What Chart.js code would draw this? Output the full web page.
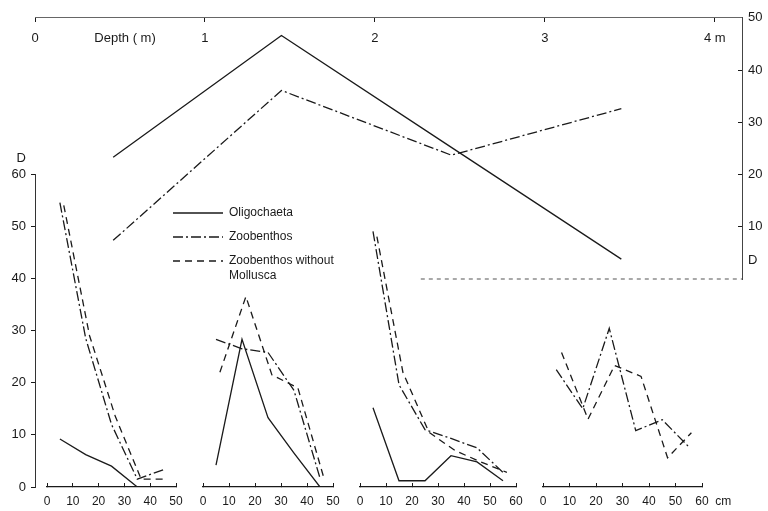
<!DOCTYPE html>
<html>
<head>
<meta charset="utf-8">
<script src="https://cdn.jsdelivr.net/npm/chart.js@4.4.0/dist/chart.umd.min.js"></script>
<style>
  html, body { margin: 0; padding: 0; background: #fff; overflow: hidden; }
  #fig { position: relative; width: 768px; height: 511px; }
  #fig canvas { position: absolute; left: 0; }
</style>
</head>
<body>
<div id="fig">
  <canvas id="transect" width="768" height="300" style="top:0px"></canvas>
  <canvas id="axisD" width="768" height="363" style="top:150px"></canvas>
  <canvas id="st1" width="768" height="363" style="top:150px"></canvas>
  <canvas id="st2" width="768" height="363" style="top:150px"></canvas>
  <canvas id="st3" width="768" height="363" style="top:150px"></canvas>
  <canvas id="st4" width="768" height="363" style="top:150px"></canvas>
  <canvas id="key" width="500" height="100" style="left:161px;top:195px"></canvas>
</div>
<script>
// top panel: D along the transect (water depth, m)
const transectDepth = [0.46, 1.45, 2.45, 3.45];
const transectOligochaeta = [23.3, 46.6, 25.2, 3.8];
const transectZoobenthos = [7.4, 36.1, 23.7, 32.6];
const transectTicks = [0, 1, 2, 3, 4];
const transectDTicks = [10, 20, 30, 40, 50];

// lower panels: D per sediment layer (cm) at the four stations
// (the "without Mollusca" curve is drawn a little to the right in the original)
const layerDepth = [5, 15, 25, 35, 45, 55];
const noMolluscaDepth = [6.5, 16.5, 26.5, 36.5, 46.5, 56.5];

const st1Oligochaeta = [9.2, 6.2, 4.0, 0];
const st1Zoobenthos = [54.5, 28.5, 12, 1.5, 3.3];
const st1NoMollusca = [54, 29, 13.5, 1.5, 1.5];

const st2Oligochaeta = [4.2, 28.3, 13.3, 6.5, 0];
const st2Zoobenthos = [28.3, 26.5, 25.8, 18.5, 1.7];
const st2NoMollusca = [22, 36.5, 21.5, 19, 1.7];

const st3Oligochaeta = [15.2, 1.2, 1.2, 6, 4.8, 1.2];
const st3Zoobenthos = [49, 19.6, 11, 9.3, 7.5, 2.8];
const st3NoMollusca = [48, 22, 10.5, 7, 4.8, 2.8];

const st4Zoobenthos = [22.5, 15, 30.4, 10.8, 12.9, 7.7];
const st4NoMolluscaDepth = [7, 17, 27, 37, 47, 56];
const st4NoMollusca = [25.8, 13, 23.3, 21.2, 5.6, 10.4];

const dTicks = [0, 10, 20, 30, 40, 50, 60];

const INK = '#1a1a1a';
const FONT = "'Liberation Sans', Arial, sans-serif";
const SOLID = [];
const DASHDOT = [10, 3, 2, 3];
const DASHED = [7, 5];

const pts = (xs, ys) => ys.map((y, i) => ({ x: xs[i], y: y }));

function line(label, data, dash) {
  return {
    label: label,
    data: data,
    borderColor: INK,
    backgroundColor: INK,
    borderWidth: 1.3,
    borderDash: dash,
    pointRadius: 0,
    pointStyle: 'line',
    tension: 0,
    fill: false
  };
}

const quiet = { legend: { display: false }, tooltip: { enabled: false } };

// dotted base of the transect panel
const baseLine = {
  id: 'baseLine',
  afterDraw(chart) {
    const { ctx, scales } = chart;
    const py = scales.y.getPixelForValue(0);
    ctx.save();
    ctx.strokeStyle = '#555';
    ctx.lineWidth = 1;
    ctx.setLineDash([4, 4]);
    ctx.beginPath();
    ctx.moveTo(scales.x.getPixelForValue(2.27), py);
    ctx.lineTo(scales.x.right, py);
    ctx.stroke();
    ctx.restore();
  }
};

new Chart(document.getElementById('transect'), {
  type: 'line',
  data: {
    datasets: [
      line('Oligochaeta', pts(transectDepth, transectOligochaeta), SOLID),
      line('Zoobenthos', pts(transectDepth, transectZoobenthos), DASHDOT)
    ]
  },
  options: {
    responsive: false,
    animation: false,
    layout: { padding: { left: 35, right: 0, top: 17, bottom: 21 } },
    plugins: quiet,
    scales: {
      x: {
        type: 'linear', min: 0, max: 4.16, position: { y: 50 },
        afterBuildTicks: s => { s.ticks = [0, 0.53].concat(transectTicks.slice(1)).map(v => ({ value: v })); },
        ticks: {
          autoSkip: false, maxRotation: 0, padding: 9, color: INK,
          font: { family: FONT, size: 13 },
          callback: v => v === 0.53 ? 'Depth ( m)' : (v === 4 ? '4 m' : v)
        },
        grid: { drawOnChartArea: false, tickLength: 4, color: c => (c.tick && c.tick.value === 0.53) ? 'transparent' : INK },
        border: { color: '#666', width: 1 }
      },
      y: {
        position: 'right', min: 0, max: 50,
        afterFit: s => { s.width = 26; },
        afterBuildTicks: s => { s.ticks = [3.6].concat(transectDTicks).map(v => ({ value: v })); },
        ticks: {
          padding: 10, color: INK, font: { family: FONT, size: 13 },
          callback: v => v === 3.6 ? 'D' : v
        },
        grid: { drawOnChartArea: false, tickLength: -4, color: c => (c.tick && c.tick.value === 3.6) ? 'transparent' : INK },
        border: { color: '#444', width: 1 }
      }
    }
  },
  plugins: [baseLine]
});

// shared D axis of the lower panels
new Chart(document.getElementById('axisD'), {
  type: 'line',
  data: { datasets: [] },
  options: {
    responsive: false,
    animation: false,
    layout: { padding: { left: 0, right: 768 - 40, top: 24, bottom: 26 } },
    plugins: quiet,
    scales: {
      x: { type: 'linear', display: false },
      y: {
        min: 0, max: 60,
        afterFit: s => { s.width = 35; },
        afterBuildTicks: s => { s.ticks = dTicks.concat([63]).map(v => ({ value: v })); },
        ticks: {
          padding: 5, color: INK, font: { family: FONT, size: 13 },
          callback: v => v === 63 ? 'D' : v
        },
        grid: { drawOnChartArea: false, tickLength: 4, color: c => (c.tick && c.tick.value > 60) ? 'transparent' : INK },
        border: { color: '#333', width: 1 }
      }
    }
  }
});

function station(id, x0, x1, maxCm, datasets, unit) {
  new Chart(document.getElementById(id), {
    type: 'line',
    data: { datasets: datasets },
    options: {
      responsive: false,
      animation: false,
      layout: { padding: { left: x0, right: 768 - x1, top: 24, bottom: 0 } },
      plugins: quiet,
      scales: {
        x: {
          type: 'linear', min: 0, max: maxCm,
          afterFit: s => { s.height = 26; },
          afterBuildTicks: s => {
            const t = [];
            for (let v = 0; v <= maxCm; v += 10) t.push({ value: v });
            if (unit) t.push({ value: maxCm + 8 });
            s.ticks = t;
          },
          ticks: {
            autoSkip: false, maxRotation: 0, padding: 11, color: INK,
            font: { family: FONT, size: 12 },
            callback: v => v > maxCm ? unit : v
          },
          grid: { drawOnChartArea: false, tickLength: -4, color: c => (c.tick && c.tick.value > maxCm) ? 'transparent' : INK },
          border: { color: INK, width: 1.2 }
        },
        y: { display: false, min: 0, max: 60 }
      }
    }
  });
}

station('st1', 47, 176, 50, [
  line('Oligochaeta', pts(layerDepth, st1Oligochaeta), SOLID),
  line('Zoobenthos', pts(layerDepth, st1Zoobenthos), DASHDOT),
  line('Zoobenthos without Mollusca', pts(noMolluscaDepth, st1NoMollusca), DASHED)
]);
station('st2', 203, 333, 50, [
  line('Oligochaeta', pts(layerDepth, st2Oligochaeta), SOLID),
  line('Zoobenthos', pts(layerDepth, st2Zoobenthos), DASHDOT),
  line('Zoobenthos without Mollusca', pts(noMolluscaDepth, st2NoMollusca), DASHED)
]);
station('st3', 360, 516, 60, [
  line('Oligochaeta', pts(layerDepth, st3Oligochaeta), SOLID),
  line('Zoobenthos', pts(layerDepth, st3Zoobenthos), DASHDOT),
  line('Zoobenthos without Mollusca', pts(noMolluscaDepth, st3NoMollusca), DASHED)
]);
station('st4', 543, 702, 60, [
  line('Zoobenthos', pts(layerDepth, st4Zoobenthos), DASHDOT),
  line('Zoobenthos without Mollusca', pts(st4NoMolluscaDepth, st4NoMollusca), DASHED)
], 'cm');

// key: legend items take the dash pattern of their dataset
new Chart(document.getElementById('key'), {
  type: 'line',
  data: {
    datasets: [
      line('Oligochaeta', [], SOLID),
      line('Zoobenthos', [], DASHDOT),
      line(['Zoobenthos without', 'Mollusca'], [], DASHED)
    ]
  },
  options: {
    responsive: false,
    animation: false,
    plugins: {
      tooltip: { enabled: false },
      legend: {
        position: 'left', align: 'start',
        labels: {
          usePointStyle: true, pointStyleWidth: 50, boxWidth: 50,
          padding: 12, color: INK, font: { family: FONT, size: 12 },
          generateLabels: chart => Chart.defaults.plugins.legend.labels.generateLabels(chart).map(item => {
            const ds = chart.data.datasets[item.datasetIndex];
            return Object.assign(item, { lineDash: ds.borderDash, lineWidth: ds.borderWidth, strokeStyle: ds.borderColor });
          })
        }
      }
    },
    scales: { x: { display: false }, y: { display: false } }
  }
});
</script>
</body>
</html>
